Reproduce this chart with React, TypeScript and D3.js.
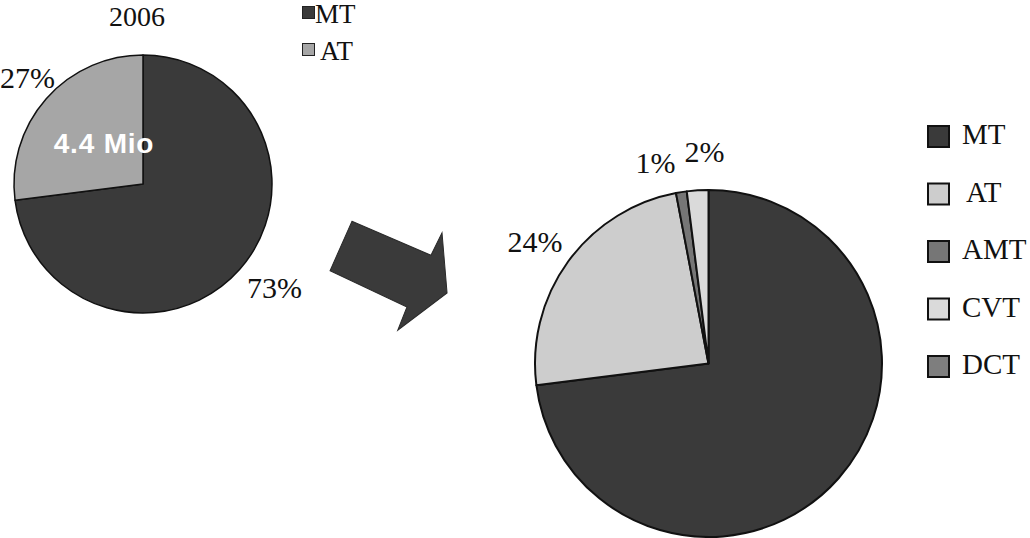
import React from "react";
import * as d3 from "d3";

// ---- data ----
const leftCategories = ["MT", "AT"];
const leftValues = [73, 27];
const leftLabels = ["73%", "27%"];
const leftTitle = "2006";
const leftTotal = "4.4 Mio";

const rightCategories = ["MT", "AT", "AMT", "CVT", "DCT"];
const rightValues = [73, 24, 1, 2, 0];
const rightLabels = ["", "24%", "1%", "2%", ""];

const leftColors = ["#3a3a3a", "#a6a6a6"];
const rightColors = ["#3a3a3a", "#cdcdcd", "#767676", "#dadada", "#7e7e7e"];

const W = 1030;
const H = 538;
const SERIF = "'Liberation Serif', 'Times New Roman', serif";
const SANS = "'Liberation Sans', Arial, sans-serif";

// arrow shape in local coords (tail at x=0, pointing along +x)
const arrowShape: [number, number][] = [
  [0, -27],
  [86, -28],
  [87, -53],
  [116, 0],
  [86, 54],
  [85, 29],
  [0, 27],
];

export default function App() {
  const pie = d3
    .pie<number>()
    .sort(null)
    .value((d) => d);

  const leftArcs = pie(leftValues);
  const rightArcs = pie(rightValues);

  const leftR = 129;
  const rightR = 173.5;
  const leftArc = d3.arc<d3.PieArcDatum<number>>().innerRadius(0).outerRadius(leftR);
  const rightArc = d3.arc<d3.PieArcDatum<number>>().innerRadius(0).outerRadius(rightR);

  const leftC = [143, 184];
  const rightC = [708.5, 363.5];

  // label positions (relative to pie center)
  const leftLabelPos: [number, number, string][] = [
    [104, 114, "start"], // 73%
    [-88, -96, "end"], // 27%
  ];
  const rightLabelPos: [number, number, string][] = [
    [0, 0, "middle"],
    [-201, -112, "start"], // 24%
    [-73, -191, "start"], // 1%
    [-24, -202, "start"], // 2%
    [0, 0, "middle"],
  ];

  const arrowLine = d3.line();

  return (
    <svg
      width={W}
      height={H}
      viewBox={`0 0 ${W} ${H}`}
      style={{ position: "absolute", left: 0, top: 0, background: "#fff" }}
    >
      <rect x={0} y={0} width={W} height={H} fill="#fff" />
      {/* left pie */}
      <g transform={`translate(${leftC[0]},${leftC[1]})`}>
        {leftArcs.map((a, i) => (
          <path
            key={i}
            d={leftArc(a) || ""}
            fill={leftColors[i]}
            stroke="#111"
            strokeWidth={1.5}
            strokeLinejoin="round"
          />
        ))}
        {leftArcs.map((a, i) => (
          <text
            key={"l" + i}
            x={leftLabelPos[i][0]}
            y={leftLabelPos[i][1]}
            textAnchor={leftLabelPos[i][2] as any}
            fontFamily={SERIF}
            fontSize={30}
            fill="#111"
          >
            {leftLabels[i]}
          </text>
        ))}
        <text
          x={-39}
          y={-31}
          textAnchor="middle"
          fontFamily={SANS}
          fontWeight="bold"
          fontSize={28}
          fill="#fff"
          letterSpacing={0.8}
        >
          {leftTotal}
        </text>
      </g>
      <text x={137} y={26} textAnchor="middle" fontFamily={SERIF} fontSize={28} fill="#111">
        {leftTitle}
      </text>
      {/* left legend */}
      {leftCategories.map((c, i) => (
        <g key={c} transform={`translate(302,${6 + i * 37})`}>
          <rect x={0.5} y={0.5} width={12} height={12} fill={leftColors[i]} stroke="#222" strokeWidth={1} />
          <text x={i === 0 ? 13 : 18} y={17} fontFamily={SERIF} fontSize={27} fill="#111">
            {c}
          </text>
        </g>
      ))}

      {/* arrow */}
      <path
        d={(arrowLine(arrowShape) || "") + "Z"}
        transform="translate(341,246) rotate(23.9)"
        fill="#3a3a3a"
        stroke="#2a2a2a"
        strokeWidth={1}
      />

      {/* right pie */}
      <g transform={`translate(${rightC[0]},${rightC[1]})`}>
        {rightArcs.map((a, i) =>
          a.value > 0 ? (
            <path
              key={i}
              d={rightArc(a) || ""}
              fill={rightColors[i]}
              stroke="#111"
              strokeWidth={2}
              strokeLinejoin="round"
            />
          ) : null
        )}
        {rightArcs.map((a, i) =>
          rightLabels[i] ? (
            <text
              key={"l" + i}
              x={rightLabelPos[i][0]}
              y={rightLabelPos[i][1]}
              textAnchor={rightLabelPos[i][2] as any}
              fontFamily={SERIF}
              fontSize={30}
              fill="#111"
            >
              {rightLabels[i]}
            </text>
          ) : null
        )}
      </g>
      {/* right legend */}
      {rightCategories.map((c, i) => (
        <g key={c} transform={`translate(928,${126 + i * 57.5})`}>
          <rect x={0} y={0} width={21} height={21} fill={rightColors[i]} stroke="#111" strokeWidth={2} />
          <text x={i === 1 ? 38 : 34} y={18} fontFamily={SERIF} fontSize={29} fill="#111">
            {c}
          </text>
        </g>
      ))}
    </svg>
  );
}
